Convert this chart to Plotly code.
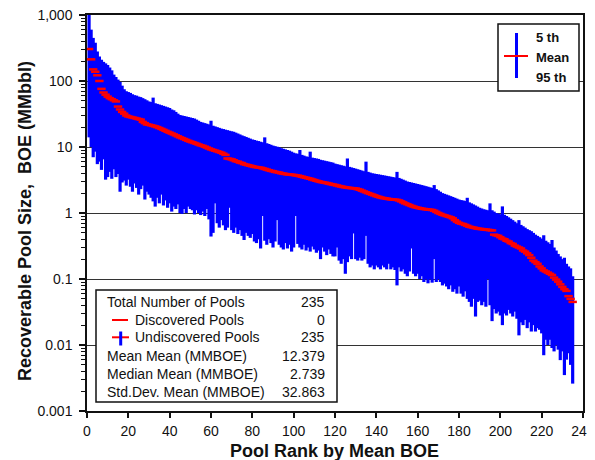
import plotly.graph_objects as go
import numpy as np

# pool rank 1..235 ranked by mean BOE
rank = list(range(1, 236))

mean_boe = [
    305, 213, 150, 138, 122, 100, 76, 67, 62, 58,
    55, 53, 51, 49, 41, 37, 34, 32, 30, 29,
    28.5, 28, 27.5, 27, 26.5, 26, 24, 23, 22, 21.7,
    21.3, 20.9, 20.5, 20, 19.4, 18.8, 18.2, 17.6, 17, 16.5,
    16, 15.5, 15, 14.5, 14, 13.6, 13.2, 12.8, 12.4, 12.1,
    11.8, 11.5, 11.2, 10.9, 10.6, 10.4, 10.1, 9.8, 9.5, 9.2,
    9.0, 8.8, 8.6, 8.4, 8.2, 7.9, 7.6, 6.7, 6.6, 6.5,
    6.3, 6.1, 6.0, 5.8, 5.7, 5.5, 5.4, 5.3, 5.2, 5.1,
    5.0, 4.95, 4.9, 4.85, 4.75, 4.65, 4.55, 4.45, 4.35, 4.3,
    4.2, 4.15, 4.1, 4.0, 3.95, 3.9, 3.85, 3.82, 3.8, 3.77,
    3.72, 3.68, 3.62, 3.55, 3.48, 3.42, 3.36, 3.3, 3.22, 3.15,
    3.08, 3.02, 2.96, 2.92, 2.88, 2.84, 2.79, 2.74, 2.70, 2.66,
    2.61, 2.56, 2.52, 2.48, 2.45, 2.42, 2.40, 2.38, 2.37, 2.35,
    2.3, 2.25, 2.18, 2.12, 2.06, 2.0, 1.95, 1.9, 1.85, 1.8,
    1.76, 1.72, 1.69, 1.67, 1.65, 1.63, 1.61, 1.6, 1.59, 1.58,
    1.55, 1.5, 1.45, 1.4, 1.36, 1.32, 1.28, 1.25, 1.22, 1.2,
    1.18, 1.16, 1.15, 1.14, 1.13, 1.12, 1.11, 1.08, 1.04, 1.0,
    0.97, 0.94, 0.92, 0.9, 0.88, 0.86, 0.83, 0.78, 0.74, 0.71,
    0.69, 0.68, 0.66, 0.64, 0.62, 0.61, 0.6, 0.59, 0.58, 0.575,
    0.57, 0.565, 0.56, 0.555, 0.55, 0.545, 0.47, 0.46, 0.45, 0.43,
    0.41, 0.40, 0.38, 0.37, 0.35, 0.34, 0.32, 0.31, 0.30, 0.29,
    0.27, 0.26, 0.245, 0.23, 0.21, 0.19, 0.18, 0.17, 0.155, 0.145,
    0.135, 0.13, 0.125, 0.12, 0.115, 0.105, 0.098, 0.091, 0.083, 0.076,
    0.07, 0.066, 0.055, 0.05, 0.045,
]

p95 = [
    1000, 600, 450, 380, 280, 235, 210, 195, 185, 175,
    160, 145, 125, 115, 105, 97, 85, 75, 70, 68,
    66, 63, 61, 60, 58, 57, 55, 53, 51, 49,
    48, 56, 46, 45, 44, 43, 42, 41, 40, 39,
    37, 36, 34, 32, 30.5, 30, 29.5, 29, 28.5, 28,
    27.5, 27, 26, 25, 24, 23.5, 23, 22.5, 22, 25,
    21, 20.5, 20, 19.5, 19, 18.7, 18.3, 18, 17.6, 17.3,
    17, 16.5, 16, 15.5, 15, 14.6, 14.2, 13.8, 13.4, 13,
    12.8, 12.5, 12.3, 12, 11.8, 14, 11.4, 11.1, 10.8, 10.5,
    10.3, 10.1, 9.9, 9.6, 9.4, 9.2, 9, 8.8, 8.5, 8.2,
    8.0, 7.9, 9.0, 7.6, 7.4, 7.2, 7.1, 8.5, 6.9, 6.8,
    6.7, 6.6, 6.4, 6.3, 6.2, 6.1, 6.0, 5.9, 5.8, 5.6,
    5.5, 5.4, 5.3, 5.2, 5.1, 6.7, 5.0, 4.9, 4.8, 4.7,
    4.6, 4.5, 4.4, 4.3, 6.0, 4.2, 4.1, 4.0, 3.95, 3.9,
    3.85, 3.8, 3.75, 3.7, 3.65, 3.6, 3.55, 3.5, 3.45, 4.2,
    3.4, 3.3, 3.2, 3.1, 3.0, 2.95, 2.9, 2.85, 2.8, 2.75,
    2.7, 2.65, 2.6, 2.55, 2.5, 2.45, 2.4, 2.65, 2.3, 2.2,
    2.1, 2.0, 1.95, 1.9, 1.85, 1.8, 1.75, 1.7, 1.65, 1.6,
    1.57, 1.55, 1.52, 1.7, 1.45, 1.4, 1.35, 1.3, 1.25, 1.2,
    1.17, 1.14, 1.12, 1.1, 1.4, 1.1, 1.05, 1.0, 0.98, 0.96,
    1.26, 0.94, 0.9, 0.86, 0.82, 0.78, 0.74, 0.7, 0.78, 0.66,
    0.63, 0.6, 0.57, 0.55, 0.53, 0.5, 0.47, 0.45, 0.43, 0.41,
    0.46, 0.38, 0.36, 0.34, 0.39, 0.3, 0.27, 0.24, 0.22, 0.2,
    0.21, 0.17, 0.155, 0.145, 0.11,
]

p05 = [
    14, 10, 7, 8.5, 5.5, 6, 4.5, 6.5, 3.2, 3.5,
    4.2, 3.3, 4.6, 3.5, 3.9, 2.1, 2.9, 3.1, 2.6, 3.2,
    2.5, 2.1, 2.8, 2.4, 1.9, 2.3, 2.6, 1.6, 2.1, 1.9,
    1.7, 1.5, 1.25, 1.7, 1.4, 1.9, 1.3, 1.55, 1.2, 1.4,
    1.05, 1.25, 1.15, 1.35, 1.0, 0.97, 1.15, 1.0, 1.25, 1.15,
    1.1, 0.95, 1.1, 1.0, 0.93, 1.05, 0.9, 1.15, 0.8, 0.44,
    0.5, 1.4, 0.7, 0.6, 0.78, 0.65, 0.55, 0.6, 1.2, 0.55,
    0.5, 0.6, 0.48, 0.55, 0.45, 0.39, 0.5, 0.45, 0.42, 0.48,
    0.37, 0.35, 0.4, 0.29, 0.9, 0.38, 0.33, 0.4, 0.35, 0.3,
    0.37, 0.78, 0.33, 0.3, 0.28, 0.35, 0.29, 0.33, 0.26, 0.3,
    0.9, 0.34, 0.3, 0.28, 0.33, 0.27, 0.3, 0.26, 0.31, 0.28,
    0.25, 0.27, 0.2, 0.3, 0.26, 0.23, 0.28, 0.24, 0.22, 0.22,
    0.3, 0.19, 0.17, 0.2, 0.12, 0.18, 0.22, 0.2, 0.49, 0.2,
    0.19, 0.21, 0.19, 0.2, 0.45, 0.17, 0.15, 0.16, 0.14, 0.16,
    0.15, 0.14, 0.16, 0.15, 0.14, 0.17, 0.14, 0.15, 0.137, 0.08,
    0.15, 0.13, 0.14, 0.12, 0.11, 0.13, 0.29, 0.12, 0.11, 0.12,
    0.1, 0.11, 0.09, 0.1, 0.086, 0.1, 0.088, 0.2, 0.09, 0.1,
    0.09, 0.08, 0.085, 0.077, 0.07, 0.08, 0.064, 0.07, 0.06, 0.077,
    0.06, 0.054, 0.065, 0.05, 0.045, 0.038, 0.05, 0.027, 0.045, 0.047,
    0.04, 0.045, 0.038, 0.1, 0.04, 0.023, 0.035, 0.03, 0.032, 0.028,
    0.02, 0.03, 0.028, 0.034, 0.03, 0.027, 0.032, 0.025, 0.014, 0.022,
    0.02, 0.024, 0.018, 0.022, 0.016, 0.02, 0.016, 0.018, 0.017, 0.015,
    0.007, 0.012, 0.01, 0.012, 0.009, 0.008, 0.01, 0.0085, 0.0059, 0.008,
    0.0035, 0.006, 0.0075, 0.005, 0.0026,
]

assert len(mean_boe) == len(p95) == len(p05) == len(rank)

stat_labels = ["Total Number of Pools", "Discovered Pools", "Undiscovered Pools",
               "Mean Mean (MMBOE)", "Median Mean (MMBOE)", "Std.Dev. Mean (MMBOE)"]
stat_values = ["235", "0", "235", "12.379", "2.739", "32.863"]

y_tickvals = [0.001, 0.01, 0.1, 1, 10, 100, 1000]
y_ticktext = ["0.001", "0.01", "0.1", "1", "10", "100", "1,000"]

FONT = "Arial, Liberation Sans, sans-serif"
BLUE = "#0000FF"
RED = "#FF0000"

# page body has an 8px margin, so the figure is drawn 8px in from the corner
OFF = 8
# plot area in screen pixels
SL, SR, ST, SB = 87, 583, 15, 411
W, H = 595 - OFF, 460 - OFF
L, R, T, B = SL - OFF, SR - OFF, ST - OFF, SB - OFF


def px(x):
    return (x - SL) / (SR - SL)


def py(y):
    return (SB - y) / (SB - ST)


mean_arr = np.array(mean_boe)
err_plus = np.array(p95) - mean_arr
err_minus = mean_arr - np.array(p05)

fig = go.Figure()

# 5th - 95th range bars
fig.add_trace(go.Scatter(
    x=rank, y=mean_boe, mode="markers",
    marker=dict(size=2, opacity=0),
    error_y=dict(type="data", symmetric=False, array=err_plus, arrayminus=err_minus,
                 color=BLUE, thickness=3.2, width=0),
    hoverinfo="skip", showlegend=False,
))

# mean ticks
fig.add_trace(go.Scatter(
    x=rank, y=mean_boe, mode="markers",
    marker=dict(symbol="line-ew", size=6, line=dict(width=2.5, color=RED)),
    showlegend=False,
))

minor_vals = [m * 10.0 ** e for e in range(-3, 3) for m in range(2, 10)]

fig.update_layout(
    width=W, height=H,
    margin=dict(l=L, r=W - R, t=T, b=H - B, autoexpand=False),
    paper_bgcolor="white", plot_bgcolor="white",
    font=dict(family=FONT, size=14, color="#111"),
    showlegend=False,
    xaxis=dict(
        range=[0, 240], tick0=0, dtick=20, automargin=False,
        ticks="outside", ticklen=5, tickwidth=1.5, tickcolor="#111",
        showline=True, linecolor="#111", linewidth=1.5, mirror=True,
        showgrid=False, zeroline=False, ticklabelstandoff=1,
        ticklabeloverflow="allow",
        tickfont=dict(size=14, family=FONT, color="#111"),
    ),
    yaxis=dict(
        type="log", range=[-3, 3], automargin=False,
        tickvals=y_tickvals, ticktext=y_ticktext,
        ticks="outside", ticklen=6, tickwidth=1.5, tickcolor="#111",
        showline=True, linecolor="#111", linewidth=1.5, mirror=True,
        showgrid=True, gridcolor="#333", gridwidth=1,
        zeroline=False, ticklabelstandoff=4, ticklabeloverflow="allow",
        tickfont=dict(size=14, family=FONT, color="#111"),
        minor=dict(tickvals=minor_vals, ticks="outside", ticklen=4,
                   tickwidth=1, tickcolor="#111", showgrid=False),
    ),
)

shapes = []
annotations = []

# axis titles
annotations.append(dict(
    text="<b>Pool Rank by Mean BOE</b>", xref="paper", yref="paper",
    x=px(334), y=py(451), xanchor="center", yanchor="middle", showarrow=False,
    font=dict(size=18, family=FONT, color="#111"),
))
annotations.append(dict(
    text="<b>Recoverable Pool Size,\u00a0 BOE (MMbbl)</b>", xref="paper", yref="paper",
    x=px(25), y=py(221), xanchor="center", yanchor="middle", showarrow=False,
    textangle=-90, font=dict(size=18, family=FONT, color="#111"),
))

# key box, top right
shapes.append(dict(type="rect", xref="paper", yref="paper", layer="above",
                   x0=px(498), x1=px(579), y0=py(91), y1=py(24),
                   fillcolor="white", line=dict(color="#111", width=1.5)))
shapes.append(dict(type="line", xref="paper", yref="paper", layer="above",
                   x0=px(516.5), x1=px(516.5), y0=py(78), y1=py(33),
                   line=dict(color=BLUE, width=3)))
shapes.append(dict(type="line", xref="paper", yref="paper", layer="above",
                   x0=px(504), x1=px(528), y0=py(56), y1=py(56),
                   line=dict(color=RED, width=2)))
for label, yy in zip(["5 th", "Mean", "95 th"], [38, 58, 78]):
    annotations.append(dict(
        text="<b>%s</b>" % label, xref="paper", yref="paper",
        x=px(534), y=py(yy), xanchor="left", yanchor="middle", showarrow=False,
        font=dict(size=13, family=FONT, color="#111"),
    ))

# statistics box, bottom left
shapes.append(dict(type="rect", xref="paper", yref="paper", layer="above",
                   x0=px(96), x1=px(337), y0=py(402), y1=py(290),
                   fillcolor="white", line=dict(color="#111", width=1.5)))
row_y = [301.7, 320, 337.3, 355.5, 373.5, 391.5]
for i, (label, val) in enumerate(zip(stat_labels, stat_values)):
    x_left = 132.5 if i in (1, 2) else 105
    annotations.append(dict(
        text=label, xref="paper", yref="paper",
        x=px(x_left), y=py(row_y[i]), xanchor="left", yanchor="middle", showarrow=False,
        font=dict(size=14, family=FONT, color="#111"),
    ))
    annotations.append(dict(
        text=val, xref="paper", yref="paper",
        x=px(327), y=py(row_y[i]), xanchor="right", yanchor="middle", showarrow=False,
        font=dict(size=14, family=FONT, color="#111"),
    ))

# glyphs for discovered / undiscovered
shapes.append(dict(type="line", xref="paper", yref="paper", layer="above",
                   x0=px(112), x1=px(128), y0=py(row_y[1]), y1=py(row_y[1]),
                   line=dict(color=RED, width=2)))
shapes.append(dict(type="line", xref="paper", yref="paper", layer="above",
                   x0=px(112), x1=px(129), y0=py(row_y[2]), y1=py(row_y[2]),
                   line=dict(color=RED, width=2)))
shapes.append(dict(type="line", xref="paper", yref="paper", layer="above",
                   x0=px(120.7), x1=px(120.7), y0=py(345.5), y1=py(331.5),
                   line=dict(color=BLUE, width=3)))

fig.update_layout(shapes=shapes, annotations=annotations)

# keep the page from growing scrollbars over the right edge
fig.write_html(
    "out.html",
    post_script="document.documentElement.style.overflow='hidden';"
                "document.body.style.overflow='hidden';",
)
